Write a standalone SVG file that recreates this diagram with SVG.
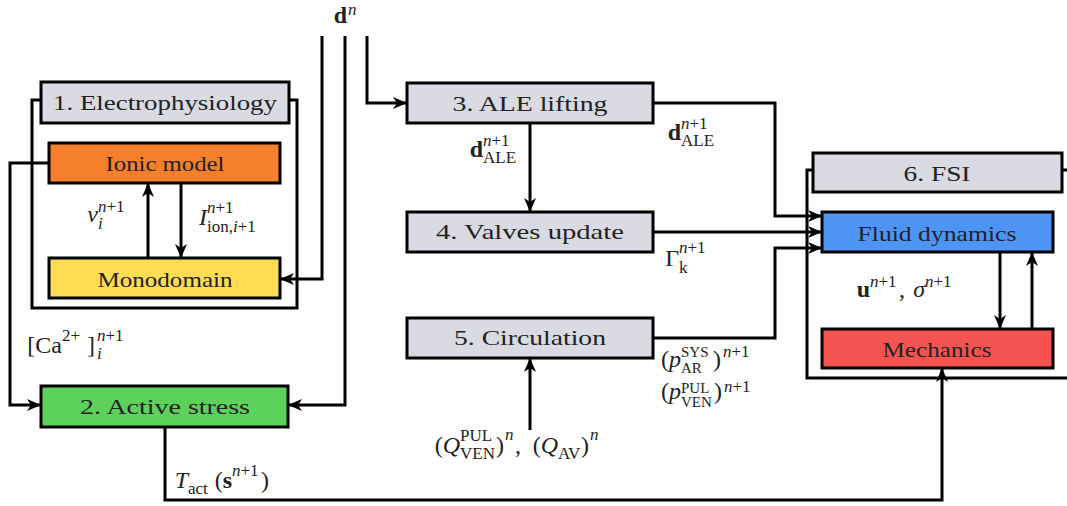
<svg xmlns="http://www.w3.org/2000/svg" width="1067" height="506" viewBox="0 0 1067 506">
<defs>
<marker id="ah" markerUnits="userSpaceOnUse" markerWidth="16" markerHeight="14" refX="14" refY="7" orient="auto">
<path d="M0,1 L14,7 L0,13 L4,7 z" fill="#000"/>
</marker>
<style>
.box{stroke:#000;stroke-width:3}
.grey{fill:#D9DAE2}
.lbl{font-family:'Liberation Serif','DejaVu Serif','Noto Serif',serif;font-size:21px;fill:#222;text-anchor:middle}
.m{font-family:'Liberation Serif','DejaVu Serif','Noto Serif',serif;font-size:24px;fill:#222}
.e{text-anchor:end}
.s{font-size:17px}
.t{font-size:15px}
.i{font-style:italic}
.b{font-weight:bold}
.ln{fill:none;stroke:#000;stroke-width:3}
.ar{fill:none;stroke:#000;stroke-width:3;marker-end:url(#ah)}
</style>
</defs>
<rect width="1067" height="506" fill="#fff"/>

<g id="frames">
<path class="ln" d="M41,100 H32 V308 H297 V100 H289"/>
<path class="ln" d="M813,170 H807 V378 H1070 M1062,170 H1070"/>
</g>

<g id="connectors">
<path class="ar" d="M148,258 V183"/>
<path class="ar" d="M181,183 V258"/>
<path class="ar" d="M49,163 H10 V405 H41"/>
<path class="ar" d="M322,36 V279 H280"/>
<path class="ar" d="M345,36 V405 H288"/>
<path class="ar" d="M367,36 V103 H407"/>
<path class="ar" d="M530,124 V212"/>
<path class="ar" d="M530,430 V358"/>
<path class="ar" d="M653,103 H775 V216 H822"/>
<path class="ar" d="M653,232 H822"/>
<path class="ar" d="M653,338 H775 V248 H822"/>
<path class="ar" d="M1000,252 V329"/>
<path class="ar" d="M1032,329 V252"/>
<path class="ar" d="M165,427 V500 H942 V368"/>
</g>

<g id="electrophysiology">
<rect class="box grey" x="41" y="82" width="248" height="41"/>
<text class="lbl" x="165" y="110" textLength="224" lengthAdjust="spacingAndGlyphs">1. Electrophysiology</text>
</g>
<g id="ionic">
<rect class="box" fill="#F57F2A" x="49" y="143" width="231" height="40"/>
<text class="lbl" x="165" y="171" textLength="119" lengthAdjust="spacingAndGlyphs">Ionic model</text>
</g>
<g id="monodomain">
<rect class="box" fill="#FEDD55" x="49" y="258" width="231" height="40"/>
<text class="lbl" x="165" y="287" textLength="135" lengthAdjust="spacingAndGlyphs">Monodomain</text>
</g>
<g id="activestress">
<rect class="box" fill="#5CD15C" x="41" y="386" width="247" height="41"/>
<text class="lbl" x="165" y="414" textLength="170" lengthAdjust="spacingAndGlyphs">2. Active stress</text>
</g>
<g id="ale">
<rect class="box grey" x="407" y="83" width="246" height="40"/>
<text class="lbl" x="530" y="111" textLength="155" lengthAdjust="spacingAndGlyphs">3. ALE lifting</text>
</g>
<g id="valves">
<rect class="box grey" x="407" y="212" width="246" height="40"/>
<text class="lbl" x="530" y="239" textLength="188" lengthAdjust="spacingAndGlyphs">4. Valves update</text>
</g>
<g id="circulation">
<rect class="box grey" x="407" y="318" width="246" height="40"/>
<text class="lbl" x="530" y="345" textLength="152" lengthAdjust="spacingAndGlyphs">5. Circulation</text>
</g>
<g id="fsi">
<rect class="box grey" x="813" y="153" width="249" height="39"/>
<text class="lbl" x="937" y="181" textLength="67" lengthAdjust="spacingAndGlyphs">6. FSI</text>
</g>
<g id="fluid">
<rect class="box" fill="#4D94F5" x="822" y="212" width="231" height="40"/>
<text class="lbl" x="937" y="241" textLength="159" lengthAdjust="spacingAndGlyphs">Fluid dynamics</text>
</g>
<g id="mechanics">
<rect class="box" fill="#F55252" x="822" y="329" width="231" height="39"/>
<text class="lbl" x="937" y="357" textLength="109" lengthAdjust="spacingAndGlyphs">Mechanics</text>
</g>

<g id="labels">
<g id="lbl-dn"><text class="m e b" x="347" y="23">d</text><text class="m s i" x="348" y="15">n</text></g>
<g id="lbl-v"><text class="m e i" x="98" y="222">v</text><text class="m s" x="98" y="212"><tspan class="i">n</tspan>+1</text><text class="m s i" x="98" y="229">i</text></g>
<g id="lbl-I"><text class="m e i" x="207" y="225">I</text><text class="m s" x="207" y="213"><tspan class="i">n</tspan>+1</text><text class="m s" x="207" y="232">ion,<tspan class="i">i</tspan>+1</text></g>
<g id="lbl-ca"><text class="m e" x="62" y="353">[Ca</text><text class="m s" x="62" y="341">2+</text><text class="m" x="87" y="353">]</text><text class="m s" x="97" y="341"><tspan class="i">n</tspan>+1</text><text class="m s i" x="97" y="359">i</text></g>
<g id="lbl-dale1"><text class="m e b" x="483" y="157">d</text><text class="m s" x="483" y="146"><tspan class="i">n</tspan>+1</text><text class="m s" x="483" y="163">ALE</text></g>
<g id="lbl-dale2"><text class="m e b" x="681" y="140">d</text><text class="m s" x="681" y="129"><tspan class="i">n</tspan>+1</text><text class="m s" x="681" y="146">ALE</text></g>
<g id="lbl-gamma"><text class="m e" x="679" y="266">Γ</text><text class="m s" x="679" y="253"><tspan class="i">n</tspan>+1</text><text class="m s" x="679" y="273">k</text></g>
<g id="lbl-par"><text class="m e" x="681" y="367">(<tspan class="i">p</tspan></text><text class="m t" x="681" y="357">SYS</text><text class="m t" x="681" y="373">AR</text><text class="m" x="713" y="367">)</text><text class="m s" x="723" y="357"><tspan class="i">n</tspan>+1</text></g>
<g id="lbl-pven"><text class="m e" x="681" y="399">(<tspan class="i">p</tspan></text><text class="m t" x="681" y="393">PUL</text><text class="m t" x="681" y="407">VEN</text><text class="m" x="714" y="399">)</text><text class="m s" x="724" y="392"><tspan class="i">n</tspan>+1</text></g>
<g id="lbl-q"><text class="m e" x="460" y="453">(<tspan class="i">Q</tspan></text><text class="m s" x="460" y="441">PUL</text><text class="m s" x="460" y="459">VEN</text><text class="m" x="496" y="453">)</text><text class="m s i" x="505" y="440">n</text><text class="m" x="515" y="453">,</text><text class="m e" x="558" y="453">(<tspan class="i">Q</tspan></text><text class="m s" x="558" y="459">AV</text><text class="m" x="581" y="453">)</text><text class="m s i" x="590" y="440">n</text></g>
<g id="lbl-u"><text class="m e b" x="870" y="297">u</text><text class="m s" x="870" y="287"><tspan class="i">n</tspan>+1</text><text class="m" x="899" y="297">,</text><text class="m e i" x="925" y="297">σ</text><text class="m s" x="925" y="287"><tspan class="i">n</tspan>+1</text></g>
<g id="lbl-tact"><text class="m e i" x="188" y="488">T</text><text class="m s" x="188" y="494">act</text><text class="m e" x="232" y="488">(<tspan class="b">s</tspan></text><text class="m s" x="232" y="476"><tspan class="i">n</tspan>+1</text><text class="m" x="261" y="488">)</text></g>
</g>
</svg>
